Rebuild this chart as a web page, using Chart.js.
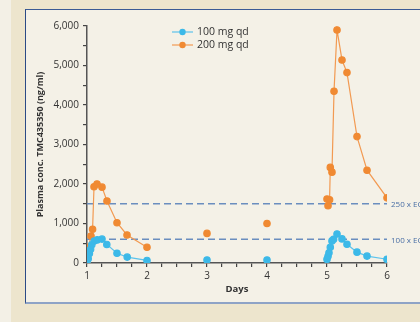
<!DOCTYPE html>
<html lang="en">
<head>
  <meta charset="UTF-8">
  <title>TMC435350 plasma concentration</title>
  <script src="https://cdn.jsdelivr.net/npm/chart.js"></script>
  <style>
    body { margin: 0; background: #ede5cd; width: 420px; height: 322px; overflow: hidden; position: relative; }
    #strip { position: absolute; left: 0; top: 0; width: 11px; height: 322px; background: #f3f0e6; }
    #panel { position: absolute; left: 25px; top: 9px; width: 400px; height: 292px;
             background: #f4f1e7; border-left: 1.5px solid #2b4a86; border-top: 1.5px solid #3b5b95;
             border-bottom: 2px solid #8ea3c6; }
    #grafik { position: absolute; left: 0; top: 0; }
  </style>
</head>
<body>
  <div id="strip"></div>
  <div id="panel"></div>
  <canvas id="grafik" width="420" height="322"></canvas>
  <script>
    // sampling days; null values break the line between dosing days
    const hariRendah = [1, 1.02, 1.04, 1.06, 1.08, 1.12, 1.17, 1.25, 1.33, 1.5, 1.67, 2, 2.5, 3, 3.5, 4, 4.5,
                        5, 5.017, 5.033, 5.055, 5.083, 5.11, 5.167, 5.25, 5.333, 5.5, 5.667, 6];
    const dosis100 = [0, 110, 240, 350, 460, 555, 585, 605, 470, 245, 150, 65, null, 75, null, 75, null,
                      95, 170, 260, 400, 560, 600, 735, 610, 475, 275, 175, 95];

    const hariTinggi = [1, 1.022, 1.067, 1.093, 1.117, 1.167, 1.25, 1.333, 1.5, 1.667, 2, 2.5, 3, 3.5, 4, 4.5,
                        5, 5.017, 5.043, 5.055, 5.083, 5.117, 5.167, 5.25, 5.333, 5.5, 5.667, 6];
    const dosis200 = [0, 400, 683, 855, 1930, 2000, 1920, 1570, 1020, 710, 400, null, 750, null, 1000, null,
                      1620, 1450, 1600, 2420, 2300, 4350, 5900, 5140, 4820, 3200, 2350, 1650];

    const ambang = [1500, 600];
    const labelAmbang = ['250 x EC50', '100 x EC50'];

    const titik = (xs, ys) => xs.map((x, i) => ({ x: x, y: ys[i] }));

    const garisAmbang = {
      id: 'garisAmbang',
      beforeDatasetsDraw(chart) {
        const { ctx, chartArea, scales } = chart;
        ctx.save();
        ambang.forEach((v, i) => {
          const y = scales.y.getPixelForValue(v);
          ctx.strokeStyle = '#6a8ebf';
          ctx.lineWidth = 1.5;
          ctx.setLineDash([7, 4]);
          ctx.beginPath();
          ctx.moveTo(chartArea.left, y);
          ctx.lineTo(chartArea.right, y);
          ctx.stroke();
          ctx.setLineDash([]);
          ctx.fillStyle = '#4a6fa5';
          ctx.font = '8px "Open Sans"';
          ctx.textBaseline = 'middle';
          ctx.fillText(labelAmbang[i], chartArea.right + 4, y + 1);
        });
        ctx.restore();
      }
    };

    const legenda = {
      id: 'legenda',
      afterDraw(chart) {
        const ctx = chart.ctx;
        ctx.save();
        chart.data.datasets.forEach((ds, i) => {
          const y = 32 + i * 13;
          ctx.strokeStyle = ds.borderColor;
          ctx.lineWidth = 1.2;
          ctx.beginPath();
          ctx.moveTo(172, y);
          ctx.lineTo(193, y);
          ctx.stroke();
          ctx.fillStyle = ds.pointBackgroundColor;
          ctx.beginPath();
          ctx.arc(182.5, y, 3.2, 0, Math.PI * 2);
          ctx.fill();
          ctx.fillStyle = '#333';
          ctx.font = '10.5px "Open Sans"';
          ctx.textBaseline = 'middle';
          ctx.fillText(ds.label, 197, y + 0.5);
        });
        ctx.restore();
      }
    };

    const ctx = document.getElementById('grafik').getContext('2d');
    new Chart(ctx, {
      type: 'line',
      data: {
        datasets: [
          {
            label: '100 mg qd',
            data: titik(hariRendah, dosis100),
            borderColor: '#5cc3ec',
            pointBackgroundColor: '#3cb9e8',
            pointBorderColor: '#3cb9e8',
            borderWidth: 1.2,
            pointRadius: 3.2,
            spanGaps: false,
            fill: false
          },
          {
            label: '200 mg qd',
            data: titik(hariTinggi, dosis200),
            borderColor: '#f29a52',
            pointBackgroundColor: '#f08a33',
            pointBorderColor: '#f08a33',
            borderWidth: 1.2,
            pointRadius: 3.2,
            spanGaps: false,
            fill: false
          }
        ]
      },
      options: {
        responsive: false,
        animation: false,
        layout: { padding: { left: 26, top: 26, right: 33, bottom: 27 } },
        plugins: { legend: { display: false }, tooltip: { enabled: false } },
        scales: {
          x: {
            type: 'linear',
            min: 1,
            max: 6,
            afterFit: s => { s.height = 32; },
            ticks: {
              stepSize: 0.25,
              autoSkip: false,
              maxRotation: 0,
              padding: 3,
              color: '#333',
              font: { family: 'Open Sans', size: 10 },
              callback: v => Number.isInteger(v) ? v : ''
            },
            grid: { drawOnChartArea: false, tickLength: 4, color: '#444', lineWidth: 1.2 },
            border: { color: '#555', width: 1.5 },
            title: {
              display: true,
              text: 'Days',
              color: '#333',
              padding: { top: 0, bottom: 0 },
              font: { family: 'Open Sans', size: 9.5, weight: 'bold' }
            }
          },
          y: {
            min: 0,
            max: 6000,
            afterFit: s => { s.width = 61; },
            ticks: {
              stepSize: 500,
              padding: 4,
              color: '#333',
              font: { family: 'Open Sans', size: 10 },
              callback: v => v % 1000 === 0 ? v.toLocaleString('en-US') : ''
            },
            grid: { drawOnChartArea: false, tickLength: 4, color: '#444', lineWidth: 1.2 },
            border: { color: '#555', width: 1.5 },
            title: {
              display: true,
              text: 'Plasma conc. TMC435350 (ng/ml)',
              color: '#333',
              padding: { top: 8.6, bottom: 0 },
              font: { family: 'Open Sans', size: 9, weight: 'bold' }
            }
          }
        }
      },
      plugins: [garisAmbang, legenda]
    });
  </script>
</body>
</html>
